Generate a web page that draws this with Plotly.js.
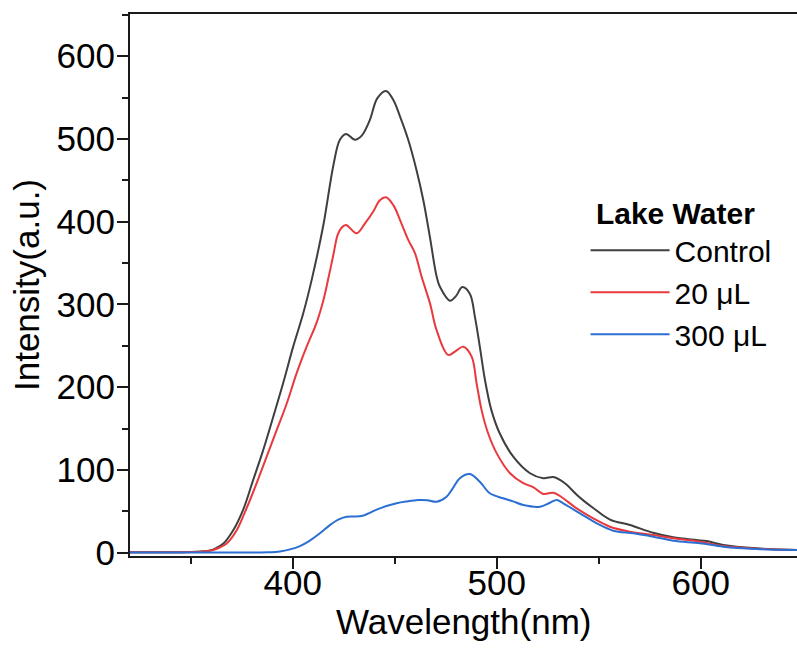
<!DOCTYPE html>
<html>
<head>
<meta charset="utf-8">
<script src="https://cdn.plot.ly/plotly-3.0.1.min.js"></script>
<style>
  html, body { margin: 0; padding: 0; background: #ffffff; }
  #chart { width: 797px; height: 648px; }
</style>
</head>
<body>
<div id="chart"></div>
<script>
// ---- Data ----
const seriesNames = ["Control", "20 μL", "300 μL"];
const legendTitle = "Lake Water";
const xTitle = "Wavelength(nm)";
const yTitle = "Intensity(a.u.)";

const controlX = [320, 330, 340, 350, 355, 359, 362, 366, 370.8, 375.7, 380.6, 385.5, 390.4, 395.3, 400.2, 405.1, 409.3, 415, 419.9, 423.1, 426.1, 430.5, 433.8, 437.8, 441.4, 445.7, 449.3, 452.6, 456.6, 460.7, 464, 467.2, 470.5, 472.2, 477.1, 480, 483.1, 486.8, 489.3, 491.7, 494.2, 497.4, 501.5, 508.1, 516.3, 522.8, 527.7, 531, 534.3, 539.2, 543, 547.3, 555.5, 565.3, 576.7, 586.5, 598, 602.9, 611, 627.4, 647.3];
const controlY = [0.5, 0.5, 0.5, 0.8, 1.5, 2.4, 5, 11, 27, 52, 88, 124, 164, 205, 249, 289, 330, 396, 468, 499, 506, 499, 504, 523, 549, 558, 547, 527, 499, 462, 426, 382, 334, 321, 304.5, 310, 321, 313, 285, 249, 209, 172, 144, 116, 96, 90, 91.5, 88, 82, 70, 62, 54, 40, 33.5, 24, 18.6, 15.3, 14, 9.3, 5.3, 3.3];

const ul20X = [320, 330, 340, 350, 355, 361, 364, 367.6, 372.5, 377.4, 382.3, 387.2, 392.1, 397, 401.9, 406.8, 411.7, 415, 417.4, 419.9, 422, 424, 426.1, 431.3, 435.4, 439.4, 442.7, 445.7, 449.3, 452.6, 456.6, 459.9, 463.1, 467.3, 470.5, 476.2, 480, 483.6, 487.7, 490.1, 492.6, 495.8, 500, 506.5, 513, 518, 522.8, 527.7, 531, 539.2, 547.3, 555.5, 565.3, 576.7, 586.5, 599.6, 611, 627.4, 647.3];
const ul20Y = [0.5, 0.5, 0.5, 0.7, 1.2, 3.3, 6, 11, 27, 54, 84, 116, 148, 180, 217, 249, 278, 305, 331, 360, 384, 393, 396, 386, 398, 412, 426, 429.5, 420, 402, 378, 362, 334, 301, 269, 239, 244, 249, 237, 205, 172, 144, 120, 96, 84, 79, 71, 72.5, 68.5, 53.6, 41.5, 31.4, 25.4, 21.4, 17.4, 13.3, 8, 4.8, 3.3];

const ul300X = [320, 340, 360, 380, 388, 393.7, 398.6, 403.5, 408, 413.3, 418, 422.3, 426.4, 433.8, 438, 442.7, 450.9, 456, 461.5, 466, 470.5, 475.4, 478.5, 481.9, 486.8, 491.7, 496.6, 503.2, 508, 513, 521.2, 526.1, 529.4, 532.6, 540.8, 549, 557.1, 567, 576.7, 586.5, 599.6, 611, 627.4, 647.3];
const ul300Y = [0.3, 0.3, 0.3, 0.3, 0.5, 1.5, 4, 8, 14, 23.4, 33, 40, 43.5, 44.3, 48.5, 53.6, 59.7, 62, 63.7, 63.5, 61.6, 67.7, 78, 90, 95, 85.8, 71.8, 65.7, 62, 57.6, 55.6, 60.4, 63.7, 59.7, 47.6, 35.5, 26.6, 23.4, 19.3, 14.5, 11.4, 7.3, 4.5, 3.3];

const xTickVals = [400, 500, 600];
const yTickVals = [0, 100, 200, 300, 400, 500, 600];

// ---- Styles ----
const colors = ["#3f3f3f", "#e8393d", "#2b6fd3"];
const FONT = "Liberation Sans, Arial, Helvetica, sans-serif";

const xs = [controlX, ul20X, ul300X];
const ys = [controlY, ul20Y, ul300Y];

const traces = xs.map((x, i) => ({
  type: "scatter",
  mode: "lines",
  x: x,
  y: ys[i],
  name: seriesNames[i],
  line: { color: colors[i], width: 2, shape: "spline", smoothing: 1 }
}));

const layout = {
  width: 797,
  height: 648,
  margin: { l: 130, r: 0, t: 14, b: 92 },
  paper_bgcolor: "#ffffff",
  plot_bgcolor: "#ffffff",
  font: { family: FONT, color: "#000000", size: 35 },
  showlegend: true,
  legend: {
    title: { text: "<b>\u00A0" + legendTitle + "</b>", font: { family: FONT, size: 30, color: "#000" } },
    font: { family: FONT, size: 30, color: "#000" },
    x: 0.683, y: 0.684, xanchor: "left", yanchor: "top",
    bgcolor: "rgba(0,0,0,0)",
    borderwidth: 0,
    itemwidth: 79,
    tracegroupgap: 0
  },
  annotations: [{
    text: xTitle,
    xref: "paper", yref: "paper",
    x: 0.5, y: -0.12,
    xanchor: "center", yanchor: "middle",
    showarrow: false,
    font: { family: FONT, size: 35, color: "#000" }
  }],
  xaxis: {
    range: [320.2, 647.2],
    tickmode: "array",
    tickvals: xTickVals,
    ticktext: xTickVals.map(String),
    ticks: "outside",
    ticklen: 11,
    tickwidth: 2,
    tickcolor: "#1a1a1a",
    ticklabelstandoff: -16,
    showline: true,
    linecolor: "#1a1a1a",
    linewidth: 2,
    mirror: true,
    showgrid: false,
    zeroline: false,
    tickfont: { family: FONT, size: 35, color: "#000" },
    minor: { dtick: 50, tick0: 0, ticks: "outside", ticklen: 6, tickwidth: 2, tickcolor: "#1a1a1a", showgrid: false }
  },
  yaxis: {
    range: [-4, 651],
    tickmode: "array",
    tickvals: yTickVals,
    ticktext: yTickVals.map(String),
    ticks: "outside",
    ticklen: 11,
    tickwidth: 2,
    tickcolor: "#1a1a1a",
    ticklabelstandoff: -5,
    showline: true,
    linecolor: "#1a1a1a",
    linewidth: 2,
    mirror: false,
    showgrid: false,
    zeroline: false,
    tickfont: { family: FONT, size: 35, color: "#000" },
    minor: { dtick: 50, tick0: 0, ticks: "outside", ticklen: 6, tickwidth: 2, tickcolor: "#1a1a1a", showgrid: false },
    title: { text: yTitle, font: { family: FONT, size: 35, color: "#000" }, standoff: 6 }
  }
};

Plotly.newPlot("chart", traces, layout, { displayModeBar: false, staticPlot: true });
</script>
</body>
</html>
